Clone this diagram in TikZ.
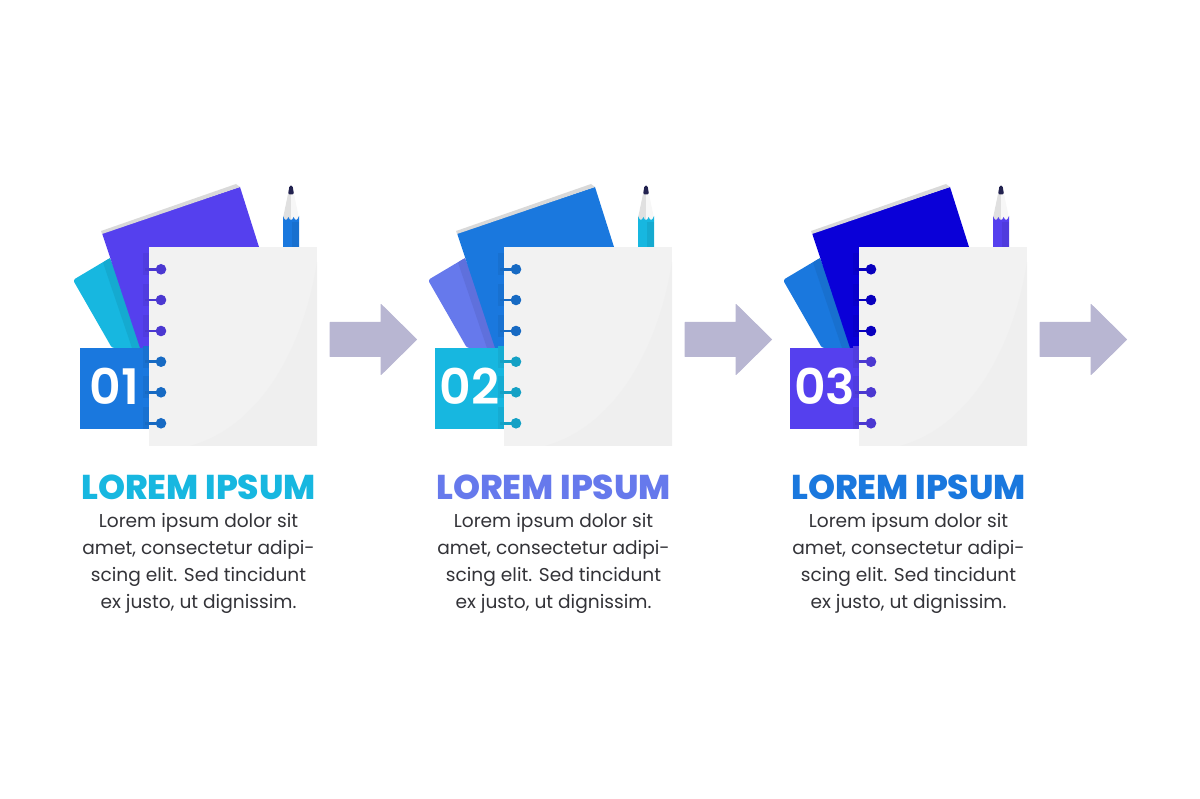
\documentclass[tikz,border=0pt]{standalone}
\usepackage{fontspec}
\usepackage{xcolor}
\setmainfont{Poppins}[BoldFont=* ExtraBold]
\newfontfamily\numfont{Poppins}[UprightFont=* SemiBold]
\usetikzlibrary{positioning}

\definecolor{tealc}{HTML}{17B7E0}
\definecolor{bluec}{HTML}{1A78DE}
\definecolor{violetc}{HTML}{5540EE}
\definecolor{periwc}{HTML}{6679EC}
\definecolor{deepc}{HTML}{0A00D8}
\definecolor{arrowc}{HTML}{B8B6D2}
\definecolor{pagec}{HTML}{F2F2F2}
\definecolor{pageshade}{HTML}{EFEFEF}
\definecolor{textc}{HTML}{333338}
\definecolor{tipc}{HTML}{22224F}

\tikzset{
  pagebox/.style={fill=pagec, minimum width=168pt, minimum height=199pt, inner sep=0pt},
  badgebox/.style={minimum width=70pt, minimum height=81pt, inner sep=0pt, text=white, font=\numfont\fontsize{49}{49}\selectfont},
  titletext/.style={font=\bfseries\fontsize{34.4}{35}\selectfont},
  bodytext/.style={text=textc, align=center, font=\fontsize{18.6}{27}\selectfont},
  flowarrow/.style={fill=arrowc, draw=arrowc, line width=1pt, line join=round}
}

\begin{document}
\begin{tikzpicture}[x=1pt, y=-1pt]
  \useasboundingbox (0,0) rectangle (1200,799);
  \foreach \n/\px/\cback/\cfront/\cbadge/\ctitle in {1/0/tealc/violetc/bluec/tealc, 2/355/periwc/bluec/tealc/periwc, 3/710/bluec/deepc/violetc/bluec}{
    \begin{scope}[xshift=\px pt]
      % Books
      \fill[\cback, rounded corners=2.5pt] (73,280) -- (110,258) -- (145,348) -- (112,348) -- cycle;
      \fill[\cback!93!black] (103,262.5) -- (110,258) -- (145,348) -- (132,348) -- cycle;
      \fill[\cfront] (102,233) -- (240,187) -- (259,247) -- (149,300) -- (149,348) -- (140,348) -- cycle;
      \fill[black!15] (101,231) -- (236,184) -- (240,187) -- (102,234) -- cycle;

      % Pencil
      \fill[black!12] (288,194) -- (283,218) -- (283,224) -- (291,224) -- (291,194) -- cycle;
      \fill[black!3] (294,194) -- (299,218) -- (299,224) -- (291,224) -- (291,194) -- cycle;
      \fill[\cbadge] (283,216) .. controls (284.5,221) and (287,221) .. (288.4,217) .. controls (289.5,221) and (292.5,221) .. (293.6,217) .. controls (295,221) and (297.5,221) .. (299,216) -- (299,247) -- (283,247) -- cycle;
      \fill[\cbadge!93!black] (292,222) rectangle (299,247);
      \fill[tipc, rounded corners=1.5pt] (289.5,185.5) -- (292.5,185.5) -- (294,194.5) -- (288,194.5) -- cycle;

      % Nodes
      \node[badgebox, fill=\cbadge] (badge\n) at (114.5,388.5) {\raisebox{5pt}{0\n}};
      \foreach \ry/\cring in {269.3/\cfront, 300/\cfront, 331/\cfront, 361.7/\cbadge, 392.3/\cbadge, 423.3/\cbadge}{
        \fill[\cring!94!black] (143,\ry-16) rectangle (149,\ry+6);
      }
      \node[pagebox] (page\n) at (233,346.5) {};
      \fill[pageshade] (317,262) .. controls (305,340) and (265,425) .. (190,446) -- (317,446) -- cycle;
      \node[titletext, text=\ctitle] (title\n) at (198.5,487) {LOREM IPSUM};
      \node[bodytext, below=7pt of title\n] (body\n) {Lorem ipsum dolor sit\\amet, consectetur adipi-\\scing elit. Sed tincidunt\\ex justo, ut dignissim.};

      % Rings
      \foreach \ry/\cring in {269.3/\cfront, 300/\cfront, 331/\cfront, 361.7/\cbadge, 392.3/\cbadge, 423.3/\cbadge}{
        \draw[\cring!88!black, line width=2.6pt] (145,\ry) -- (161,\ry);
        \fill[\cring!88!black] (161,\ry) circle (5.3);
      }

      % Arrows
      \path[flowarrow] (330,322.5) -- (381,322.5) -- (381,304.5) -- (416.5,339.5) -- (381,374.5) -- (381,356.5) -- (330,356.5) -- cycle;
    \end{scope}
  }
\end{tikzpicture}
\end{document}
